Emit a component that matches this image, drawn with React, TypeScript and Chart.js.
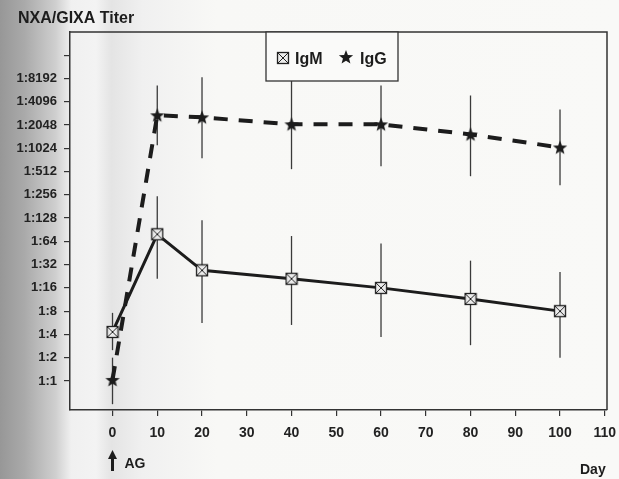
import React, { useEffect, useRef } from "react";
import { Chart, registerables } from "chart.js";

Chart.register(...registerables);

const days = [0, 10, 20, 40, 60, 80, 100];
const igmTiter = [4.3, 79, 27, 21, 16, 11.5, 8];
const igmLow = [2.5, 21, 5.6, 5.3, 3.7, 2.9, 2.0];
const igmHigh = [7.6, 245, 120, 75, 60, 36, 25.6];
const iggTiter = [1.03, 2740, 2575, 2090, 2090, 1550, 1050];
const iggLow = [0.5, 1120, 760, 550, 600, 446, 340];
const iggHigh = [2.0, 6650, 8480, 7640, 6650, 4940, 3260];
const yTickTiters = [1, 2, 4, 8, 16, 32, 64, 128, 256, 512, 1024, 2048, 4096, 8192, 16384];
const yLabelMax = 8192;
const xTicks = [0, 10, 20, 30, 40, 50, 60, 70, 80, 90, 100, 110];
const seriesNames = ["IgM", "IgG"];

const W = 619;
const H = 479;
const INK = "#1c1c1c";

function makeSquare(): HTMLCanvasElement {
  const c = document.createElement("canvas");
  c.width = 14;
  c.height = 14;
  const g = c.getContext("2d")!;
  g.fillStyle = "#ececec";
  g.fillRect(1.5, 1.5, 11, 11);
  g.strokeStyle = "#222";
  g.lineWidth = 1.3;
  g.strokeRect(1.5, 1.5, 11, 11);
  g.lineWidth = 1;
  g.beginPath();
  g.moveTo(2, 2);
  g.lineTo(12, 12);
  g.moveTo(12, 2);
  g.lineTo(2, 12);
  g.stroke();
  return c;
}

function makeStar(): HTMLCanvasElement {
  const c = document.createElement("canvas");
  c.width = 16;
  c.height = 16;
  const g = c.getContext("2d")!;
  g.fillStyle = INK;
  g.beginPath();
  for (let i = 0; i < 10; i++) {
    const r = i % 2 === 0 ? 7.5 : 3.2;
    const a = -Math.PI / 2 + (i * Math.PI) / 5;
    const px = 8 + r * Math.cos(a);
    const py = 8.5 + r * Math.sin(a);
    if (i === 0) g.moveTo(px, py);
    else g.lineTo(px, py);
  }
  g.closePath();
  g.fill();
  return c;
}

export default function App() {
  const ref = useRef<HTMLCanvasElement | null>(null);

  useEffect(() => {
    document.body.style.margin = "0";
    const canvas = ref.current;
    if (!canvas) return;
    const sq = makeSquare();
    const star = makeStar();

    const bgPlugin = {
      id: "bg",
      beforeDraw(chart: any) {
        const ctx = chart.ctx;
        ctx.save();
        const gr = ctx.createLinearGradient(0, 0, W, 0);
        gr.addColorStop(0, "#979797");
        gr.addColorStop(0.04, "#aaaaaa");
        gr.addColorStop(0.09, "#cfcfcf");
        gr.addColorStop(0.115, "#f0f0f0");
        gr.addColorStop(0.155, "#f3f3f3");
        gr.addColorStop(0.18, "#e4e4e4");
        gr.addColorStop(0.23, "#f0f0f0");
        gr.addColorStop(0.35, "#f8f8f6");
        gr.addColorStop(1, "#f9f9f7");
        ctx.fillStyle = gr;
        ctx.fillRect(0, 0, W, H);
        ctx.restore();
      },
    };

    const errPlugin = {
      id: "errbars",
      beforeDatasetsDraw(chart: any) {
        const ctx = chart.ctx;
        const xs = chart.scales.x;
        const ys = chart.scales.y;
        const a = chart.chartArea;
        ctx.save();
        ctx.beginPath();
        ctx.rect(a.left, a.top, a.right - a.left, a.bottom - a.top);
        ctx.clip();
        ctx.strokeStyle = "#3a3a3a";
        ctx.lineWidth = 1.3;
        const sets = [
          [igmLow, igmHigh],
          [iggLow, iggHigh],
        ];
        sets.forEach(([lo, hi]) => {
          days.forEach((d, i) => {
            const x = xs.getPixelForValue(d);
            ctx.beginPath();
            ctx.moveTo(x, ys.getPixelForValue(lo[i]));
            ctx.lineTo(x, ys.getPixelForValue(hi[i]));
            ctx.stroke();
          });
        });
        ctx.restore();
      },
    };

    const decoPlugin = {
      id: "deco",
      afterDraw(chart: any) {
        const ctx = chart.ctx;
        const a = chart.chartArea;
        ctx.save();
        ctx.strokeStyle = "#333";
        ctx.lineWidth = 1.5;
        ctx.beginPath();
        ctx.moveTo(a.left, a.top);
        ctx.lineTo(a.right, a.top);
        ctx.lineTo(a.right, a.bottom);
        ctx.stroke();

        // legend box
        ctx.fillStyle = "#fafaf9";
        ctx.fillRect(266, 32, 132, 49);
        ctx.lineWidth = 1.3;
        ctx.strokeRect(266, 32, 132, 49);
        ctx.drawImage(sq, 276, 51);
        ctx.drawImage(star, 338, 49);
        ctx.fillStyle = INK;
        ctx.font = "bold 16px 'Liberation Sans', Arial, sans-serif";
        ctx.textBaseline = "alphabetic";
        ctx.textAlign = "left";
        ctx.fillText(seriesNames[0], 295, 64);
        ctx.fillText(seriesNames[1], 360, 64);

        // title
        ctx.font = "bold 16px 'Liberation Sans', Arial, sans-serif";
        ctx.fillText("NXA/GIXA Titer", 18, 23);

        // Day
        ctx.font = "bold 14px 'Liberation Sans', Arial, sans-serif";
        ctx.fillText("Day", 580, 474);

        // arrow + AG
        const x0 = chart.scales.x.getPixelForValue(0);
        ctx.strokeStyle = INK;
        ctx.lineWidth = 3;
        ctx.beginPath();
        ctx.moveTo(x0, 471);
        ctx.lineTo(x0, 457);
        ctx.stroke();
        ctx.beginPath();
        ctx.moveTo(x0, 450);
        ctx.lineTo(x0 - 4.5, 459);
        ctx.lineTo(x0 + 4.5, 459);
        ctx.closePath();
        ctx.fill();
        ctx.font = "bold 14px 'Liberation Sans', Arial, sans-serif";
        ctx.fillText("AG", x0 + 12, 468);
        ctx.restore();
      },
    };

    const chart = new Chart(canvas, {
      type: "line",
      data: {
        datasets: [
          {
            label: seriesNames[0],
            data: days.map((d, i) => ({ x: d, y: igmTiter[i] })),
            borderColor: INK,
            borderWidth: 3,
            pointStyle: sq as any,
            pointRadius: 6,
            tension: 0,
            fill: false,
          },
          {
            label: seriesNames[1],
            data: days.map((d, i) => ({ x: d, y: iggTiter[i] })),
            borderColor: INK,
            borderWidth: 4,
            borderDash: [14, 11],
            pointStyle: star as any,
            pointRadius: 7,
            tension: 0,
            fill: false,
          },
        ],
      },
      options: {
        animation: false,
        responsive: false,
        maintainAspectRatio: false,
        layout: { padding: { top: 32, right: 12, left: 0, bottom: 0 } },
        plugins: {
          legend: { display: false },
          tooltip: { enabled: false },
          title: { display: false },
        },
        scales: {
          x: {
            type: "linear",
            min: -9.5,
            max: 110.5,
            afterBuildTicks: (s: any) => {
              s.ticks = xTicks.map((v) => ({ value: v }));
            },
            afterFit: (s: any) => {
              s.height = H - 410;
              s.paddingLeft = 0;
              s.paddingRight = 0;
            },
            grid: { drawOnChartArea: false, tickLength: 6, color: "#333", lineWidth: 1.2 },
            border: { color: "#333", width: 1.5 },
            ticks: {
              autoSkip: false,
              maxRotation: 0,
              padding: 9,
              color: "#222",
              font: { family: "'Liberation Sans', Arial, sans-serif", size: 14, weight: "bold" },
              callback: (v: any) => String(v),
            },
          },
          y: {
            type: "logarithmic",
            min: Math.pow(2, -1.25),
            max: 32768,
            afterBuildTicks: (s: any) => {
              s.ticks = yTickTiters.map((v) => ({ value: v }));
            },
            afterFit: (s: any) => {
              s.width = 70;
              s.paddingTop = 0;
              s.paddingBottom = 0;
            },
            grid: { drawOnChartArea: false, tickLength: 6, color: "#333", lineWidth: 1.2 },
            border: { color: "#333", width: 1.5 },
            ticks: {
              autoSkip: false,
              padding: 7,
              color: "#222",
              font: { family: "'Liberation Sans', Arial, sans-serif", size: 13, weight: "bold" },
              callback: (v: any) => (Number(v) <= yLabelMax ? "1:" + Math.round(Number(v)) : ""),
            },
          },
        },
      },
      plugins: [bgPlugin, errPlugin, decoPlugin],
    } as any);

    return () => chart.destroy();
  }, []);

  return (
    <div style={{ width: W, height: H }}>
      <canvas ref={ref} width={W} height={H} style={{ width: W, height: H, display: "block" }} />
    </div>
  );
}
